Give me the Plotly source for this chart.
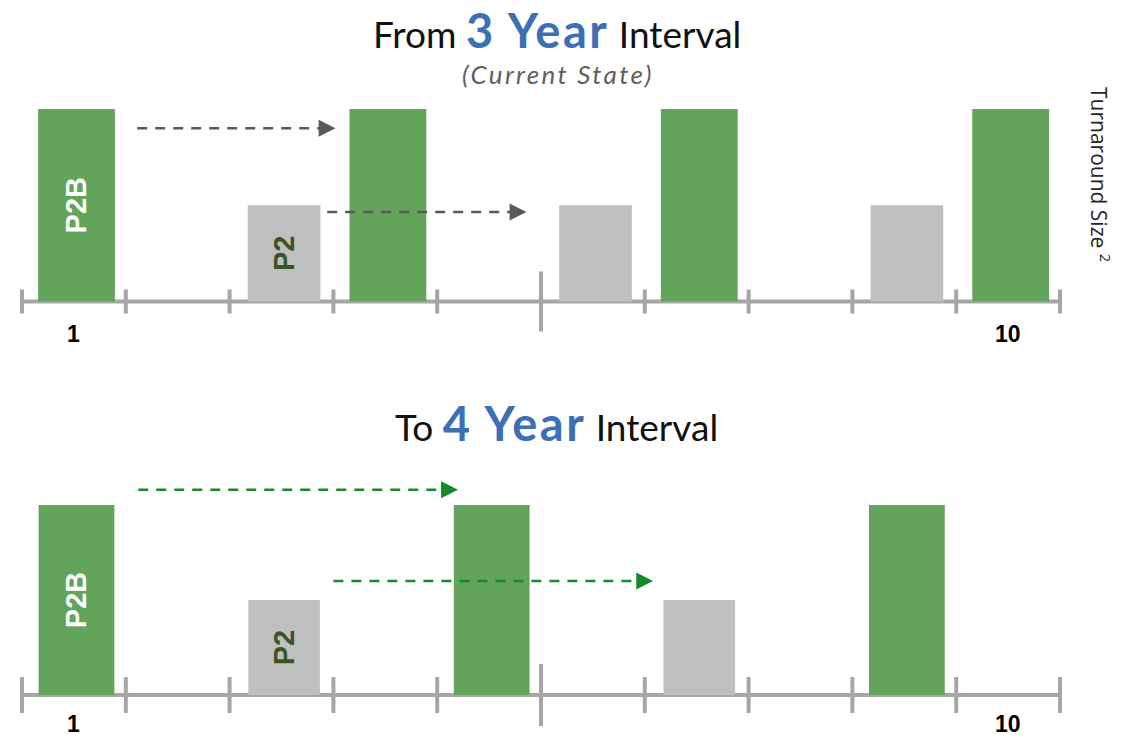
import plotly.graph_objects as go

# ---------------- data ----------------
top_green_years = [1, 4, 7, 10]
top_green_size = [2, 2, 2, 2]
top_green_labels = ["P2B", "", "", ""]
top_gray_years = [3, 6, 9]
top_gray_size = [1, 1, 1]
top_gray_labels = ["P2", "", ""]

bot_green_years = [1, 5, 9]
bot_green_size = [2, 2, 2]
bot_green_labels = ["P2B", "", ""]
bot_gray_years = [3, 7]
bot_gray_size = [1, 1]
bot_gray_labels = ["P2", ""]

axis_years = list(range(1, 11))
tick_label_years = [1, 10]
tick_labels = ["1", "10"]

# arrows (start year, end year, height level in size units)
top_arrow_start = [1.61, 3.44]
top_arrow_end = [3.52, 5.36]
top_arrow_level = [1.80, 0.93]
bot_arrow_start = [1.62, 3.50]
bot_arrow_end = [4.70, 6.58]
bot_arrow_level = [2.16, 1.20]

# ---------------- style / layout ----------------
W, H = 1129, 737
GREEN = "#62A55A"
GRAY = "#BFBFBF"
AXIS_GRAY = "#A6A6A6"
BLUE = "#3B70B4"
DARK_GREEN_TXT = "#375623"
ARROW_GRAY = "#595959"
ARROW_GREEN = "#16892A"

X_LO, X_HI = 0.3, 10.7
PX_X05, PX_XUNIT = 22.0, 103.8
BAR_SHIFT = 0.025


def xdomain():
    left = PX_X05 + (X_LO - 0.5) * PX_XUNIT
    right = PX_X05 + (X_HI - 0.5) * PX_XUNIT
    return [left / W, right / W]


def ydomain(zero_px, unit, lo, hi):
    bottom_px = zero_px - lo * unit
    top_px = zero_px - hi * unit
    return [(H - bottom_px) / H, (H - top_px) / H]


TOP_RANGE = [-0.5, 2.45]
BOT_RANGE = [-0.42, 2.4]

fig = go.Figure()

bar_font = "Liberation Sans, Arial, sans-serif"


def add_bars(xs, ys, labels, color, txtcolor, width, xa, ya):
    fig.add_trace(go.Bar(
        x=xs, y=ys, width=width, offset=-width / 2 + BAR_SHIFT,
        marker=dict(color=color, line=dict(width=0)),
        text=labels, textposition="inside", insidetextanchor="middle", textangle=-90,
        textfont=dict(family=bar_font, size=29, color=txtcolor, weight="bold"),
        xaxis=xa, yaxis=ya, showlegend=False, hoverinfo="skip"))


add_bars(top_green_years, top_green_size, top_green_labels, GREEN, "white", 0.74, "x", "y")
add_bars(top_gray_years, top_gray_size, top_gray_labels, GRAY, DARK_GREEN_TXT, 0.70, "x", "y")
add_bars(bot_green_years, bot_green_size, bot_green_labels, GREEN, "white", 0.73, "x2", "y2")
add_bars(bot_gray_years, bot_gray_size, bot_gray_labels, GRAY, DARK_GREEN_TXT, 0.69, "x2", "y2")

annotations = []
shapes = []


def add_arrows(starts, ends, levels, color, xa, ya):
    for s, e, lv in zip(starts, ends, levels):
        fig.add_trace(go.Scatter(
            x=[s, e - 0.12], y=[lv, lv], mode="lines",
            line=dict(color=color, width=2.5, dash="10px,8px"),
            xaxis=xa, yaxis=ya, showlegend=False, hoverinfo="skip"))
        annotations.append(dict(
            x=e, y=lv, xref=xa, yref=ya, ax=-18, ay=0, text="",
            showarrow=True, arrowhead=2, arrowsize=1.35, arrowwidth=2.5,
            arrowcolor=color))


add_arrows(top_arrow_start, top_arrow_end, top_arrow_level, ARROW_GRAY, "x", "y")
add_arrows(bot_arrow_start, bot_arrow_end, bot_arrow_level, ARROW_GREEN, "x2", "y2")


def add_axis(xa, ya, tick_half, mid_half, label_shift):
    edges = [y - 0.5 for y in axis_years] + [axis_years[-1] + 0.5]
    shapes.append(dict(type="line", xref=xa, yref=ya, x0=edges[0], x1=edges[-1],
                       y0=0, y1=0, line=dict(color=AXIS_GRAY, width=4), layer="below"))
    mid = edges[len(edges) // 2]
    for e in edges:
        half = mid_half if e == mid else tick_half
        shapes.append(dict(type="line", xref=xa, yref=ya, x0=e, x1=e,
                           ysizemode="pixel", yanchor=0, y0=-half, y1=half,
                           line=dict(color=AXIS_GRAY, width=4), layer="below"))
    for ty, tl in zip(tick_label_years, tick_labels):
        annotations.append(dict(x=ty, y=0, xref=xa, yref=ya, yshift=label_shift,
                                text=tl, showarrow=False, yanchor="middle",
                                font=dict(family=bar_font, size=23, color="black", weight="bold")))


add_axis("x", "y", 12, 30, -33)
add_axis("x2", "y2", 18, 31, -29)

title_font = "Lato, Open Sans, sans-serif"
BIG = "<span style='font-size:47px;letter-spacing:2.5px;color:%s'><b>%s</b></span>"
annotations.append(dict(
    x=557 / W, y=(H - 30) / H, xref="paper", yref="paper", showarrow=False,
    text="From " + BIG % (BLUE, "3 Year") + " Interval",
    font=dict(family=title_font, size=37, color="#111111"), yanchor="middle"))
annotations.append(dict(
    x=558 / W, y=(H - 74) / H, xref="paper", yref="paper", showarrow=False,
    text="<i><span style='letter-spacing:2.3px'>(Current State)</span></i>",
    font=dict(family=title_font, size=26, color="#606060"), yanchor="middle"))
annotations.append(dict(
    x=556 / W, y=(H - 423) / H, xref="paper", yref="paper", showarrow=False,
    text="To " + BIG % (BLUE, "4 Year") + " Interval",
    font=dict(family=title_font, size=37, color="#111111"), yanchor="middle"))
annotations.append(dict(
    x=1101 / W, y=(H - 174) / H, xref="paper", yref="paper", showarrow=False,
    text="Turnaround Size <sup>2</sup>", textangle=90, xanchor="center", yanchor="middle",
    font=dict(family="Open Sans, sans-serif", size=21, color="#262626")))

fig.update_layout(
    width=W, height=H, margin=dict(l=0, r=0, t=0, b=0),
    paper_bgcolor="white", plot_bgcolor="white", barmode="overlay",
    xaxis=dict(domain=xdomain(), range=[X_LO, X_HI], visible=False, fixedrange=True),
    yaxis=dict(domain=ydomain(301.5, 96.25, *TOP_RANGE), range=TOP_RANGE, visible=False),
    xaxis2=dict(domain=xdomain(), range=[X_LO, X_HI], visible=False, anchor="y2"),
    yaxis2=dict(domain=ydomain(695, 95, *BOT_RANGE), range=BOT_RANGE, visible=False, anchor="x2"),
    annotations=annotations, shapes=shapes)

fig.write_html("out.html")
